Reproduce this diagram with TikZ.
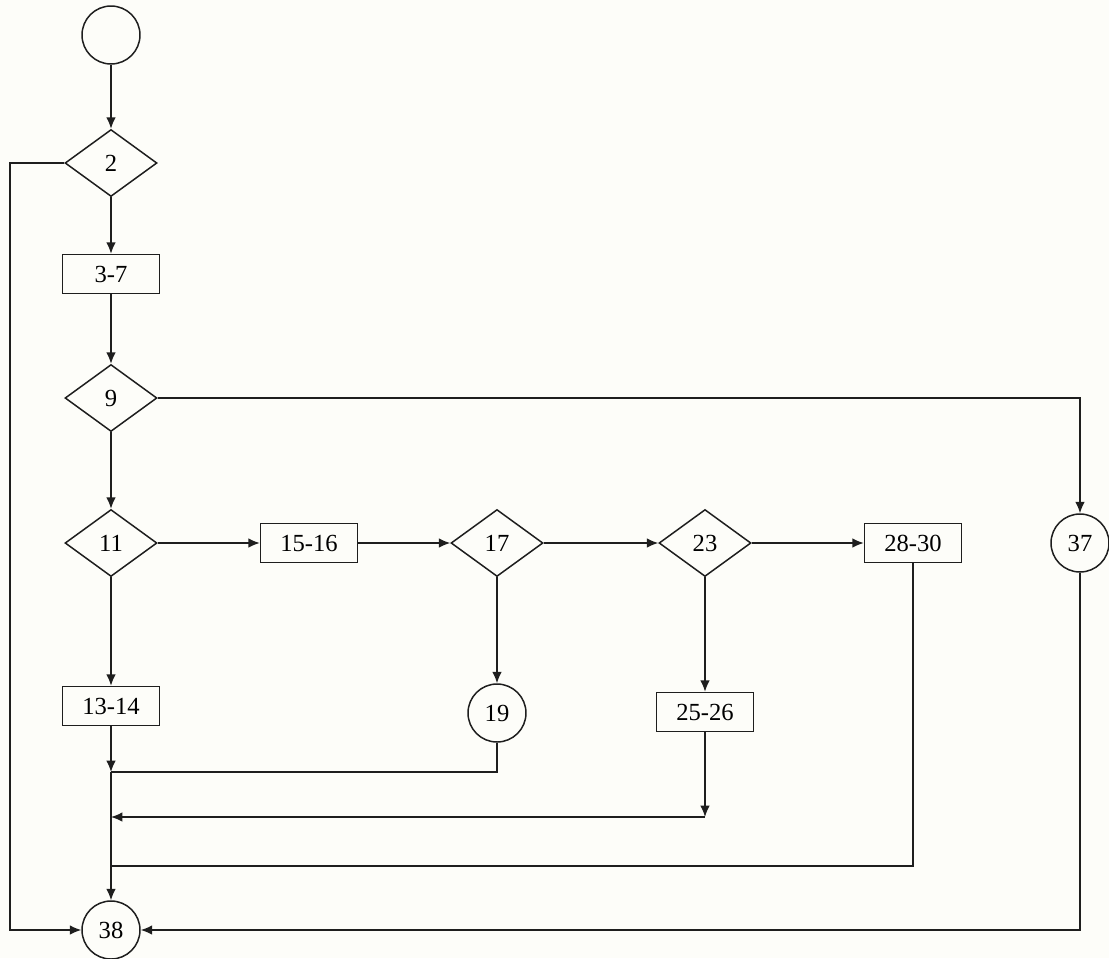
\documentclass[tikz,border=0pt]{standalone}
\usepackage{fontspec}
\setmainfont{Liberation Serif}
\usetikzlibrary{arrows.meta,shapes.geometric}
\definecolor{pagecream}{RGB}{253,253,249}
\definecolor{flowline}{RGB}{30,30,30}

\begin{document}
\begin{tikzpicture}[x=0.02cm, y=-0.02cm, font=\fontsize{14}{16}\selectfont,
  >={Latex[length=6.5pt,width=5.5pt]}, line width=0.85pt, draw=flowline,
  decision/.style={diamond, draw, inner sep=0pt, minimum width=1.84cm, minimum height=1.34cm},
  stmtbox/.style={rectangle, draw, inner sep=0pt, minimum width=1.94cm, minimum height=0.78cm},
  joinnode/.style={circle, draw, inner sep=0pt, minimum size=1.16cm}]
\fill[pagecream] (0,0) rectangle (1109,958);
\useasboundingbox (0,0) rectangle (1109,958);
% nodes of the flow graph
\node[joinnode] (start) at (111,35) {};
\node[decision] (d2) at (111,163) {2};
\node[stmtbox] (b37) at (111,274) {3-7};
\node[decision] (d9) at (111,398) {9};
\node[decision] (d11) at (111,543) {11};
\node[stmtbox] (b1516) at (309,543) {15-16};
\node[decision] (d17) at (497,543) {17};
\node[decision] (d23) at (705,543) {23};
\node[stmtbox] (b2830) at (913,543) {28-30};
\node[joinnode] (c37) at (1080,543) {37};
\node[stmtbox] (b1314) at (111,706) {13-14};
\node[joinnode] (c19) at (497,713) {19};
\node[stmtbox] (b2526) at (705,712) {25-26};
\node[joinnode] (n38) at (111,930) {38};
% junctions on the way to 38
\coordinate (leftrail) at (10,163);
\coordinate (j1) at (111,772);
\coordinate (j2) at (111,817);
\coordinate (j3) at (111,866);
% edges
\draw[->] (start) -- (d2);
\draw[->] (d2) -- (b37);
\draw[->] (d2.west) -- (leftrail) |- (n38.west);
\draw[->] (b37) -- (d9);
\draw[->] (d9) -- (d11);
\draw[->] (d9.east) -| (c37.north);
\draw[->] (d11) -- (b1516);
\draw[->] (b1516) -- (d17);
\draw[->] (d17) -- (d23);
\draw[->] (d23) -- (b2830);
\draw[->] (d11) -- (b1314);
\draw[->] (d17) -- (c19);
\draw[->] (d23) -- (b2526);
\draw[->] (b1314) -- (j1);
\draw (c19.south) |- (j1);
\draw[->] (b2526.south) -- (b2526 |- j2);
\draw[->] (b2526 |- j2) -- (j2);
\draw (b2830.south) |- (j3);
\draw[->] (j1) -- (n38);
\draw[->] (c37.south) |- (n38.east);
\end{tikzpicture}
\end{document}
